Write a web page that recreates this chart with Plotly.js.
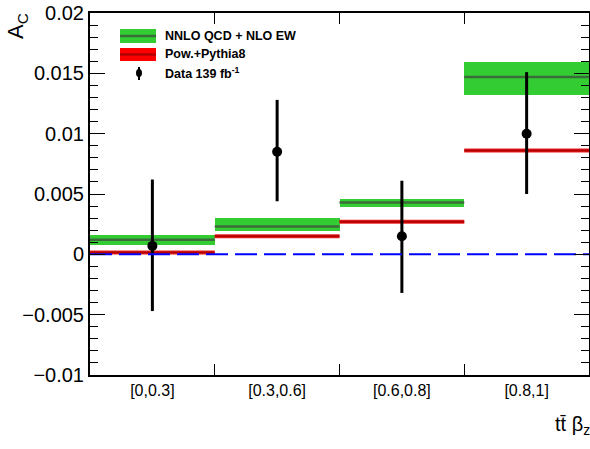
<!DOCTYPE html>
<html>
<head>
<meta charset="utf-8">
<script src="https://cdn.plot.ly/plotly-3.0.1.min.js"></script>
<style>html,body{margin:0;padding:0;background:#fff;}#chart{width:590px;height:449px;}</style>
</head>
<body>
<div id="chart"></div>
<script>
// ---- data ----
var binLabels = ['[0,0.3]', '[0.3,0.6]', '[0.6,0.8]', '[0.8,1]'];
var nnloCentral = [0.0012, 0.0023, 0.0043, 0.0147];
var nnloLow     = [0.00075, 0.0019, 0.0039, 0.0132];
var nnloHigh    = [0.00157, 0.0030, 0.0046, 0.0159];
var powheg      = [0.00015, 0.0015, 0.0027, 0.0086];
var dataVal     = [0.0007, 0.0085, 0.0015, 0.0100];
var dataUp      = [0.0062, 0.0128, 0.0061, 0.0151];
var dataDown    = [-0.0047, 0.0044, -0.0032, 0.0050];
var yTickVals   = [-0.01, -0.005, 0, 0.005, 0.01, 0.015, 0.02];
var yTickText   = ['\u22120.01', '\u22120.005', '0', '0.005', '0.01', '0.015', '0.02'];

// ---- derived ----
var centers = binLabels.map(function(_, i){ return i + 0.5; });
var edgesInner = binLabels.slice(1).map(function(_, i){ return i + 1; });
function steps(vals){
  var xs = [], ys = [];
  vals.forEach(function(v, i){ xs.push(i, i + 1, null); ys.push(v, v, null); });
  return {x: xs, y: ys};
}
var gStep = steps(nnloCentral), rStep = steps(powheg);

var traces = [
  {type: 'bar', x: centers, y: nnloHigh.map(function(h, i){ return h - nnloLow[i]; }),
   base: nnloLow, width: 1, marker: {color: '#33cc33', line: {width: 0}}, hoverinfo: 'skip'},
  {type: 'scatter', mode: 'lines', x: gStep.x, y: gStep.y, line: {color: '#3b6b3b', width: 2.5}},
  {type: 'scatter', mode: 'lines', x: rStep.x, y: rStep.y, line: {color: '#ee2222', width: 4}},
  {type: 'scatter', mode: 'lines', x: rStep.x, y: rStep.y, line: {color: '#b00000', width: 2}},
  {type: 'scatter', mode: 'lines', xaxis: 'x2', x: [0, binLabels.length], y: [0, 0],
   line: {color: '#0000ff', width: 2, dash: '22px,7px'}},
  {type: 'scatter', mode: 'markers', x: centers, y: dataVal,
   marker: {color: '#000', size: 10, symbol: 'circle'},
   error_y: {type: 'data', symmetric: false,
     array: dataUp.map(function(u, i){ return u - dataVal[i]; }),
     arrayminus: dataVal.map(function(v, i){ return v - dataDown[i]; }),
     color: '#000', thickness: 3, width: 0}}
];

var L = 90, R = 589, T = 13, B = 375;
function px(x){ return (x - L) / (R - L); }
function py(y){ return (B - y) / (B - T); }

var font = 'Liberation Sans, Arial, sans-serif';
var layout = {
  width: 590, height: 449,
  margin: {l: 90, r: 1, t: 13, b: 74},
  paper_bgcolor: '#fff', plot_bgcolor: '#fff',
  showlegend: false,
  bargap: 0,
  xaxis: {range: [0, binLabels.length], tickvals: centers, ticktext: binLabels, ticks: '',
    showline: true, linecolor: '#000', linewidth: 2, mirror: true, showgrid: false, zeroline: false,
    tickfont: {family: font, size: 16, color: '#000'}, fixedrange: true},
  xaxis2: {range: [0, binLabels.length], overlaying: 'x', anchor: 'y', tickvals: edgesInner,
    ticks: 'inside', ticklen: 11, tickwidth: 1, tickcolor: '#000', mirror: 'ticks',
    showticklabels: false, showline: false, showgrid: false, zeroline: false},
  yaxis: {range: [-0.01, 0.02], tickvals: yTickVals, ticktext: yTickText,
    ticks: 'inside', ticklen: 15, tickwidth: 1, tickcolor: '#000', mirror: 'ticks',
    minor: {dtick: 0.001, ticks: 'inside', ticklen: 8, tickwidth: 1, tickcolor: '#000'},
    showline: true, linecolor: '#000', linewidth: 2, showgrid: false, zeroline: false,
    tickfont: {family: font, size: 20, color: '#000'}, fixedrange: true},
  shapes: [
    {type: 'rect', xref: 'paper', yref: 'paper', x0: px(120), x1: px(156), y0: py(43), y1: py(29),
     fillcolor: '#33cc33', line: {width: 0}},
    {type: 'line', xref: 'paper', yref: 'paper', x0: px(120), x1: px(156), y0: py(36), y1: py(36),
     line: {color: '#3b6b3b', width: 2.5}},
    {type: 'rect', xref: 'paper', yref: 'paper', x0: px(120), x1: px(156), y0: py(61), y1: py(48),
     fillcolor: '#ff0000', line: {width: 0}},
    {type: 'line', xref: 'paper', yref: 'paper', x0: px(120), x1: px(156), y0: py(54.5), y1: py(54.5),
     line: {color: '#b00000', width: 2.5}},
    {type: 'line', xref: 'paper', yref: 'paper', x0: px(139), x1: px(139), y0: py(80), y1: py(67),
     line: {color: '#000', width: 2}},
    {type: 'circle', xref: 'paper', yref: 'paper', x0: px(136), x1: px(142), y0: py(77), y1: py(69),
     fillcolor: '#000', line: {width: 0}}
  ],
  annotations: [
    {xref: 'paper', yref: 'paper', x: px(163), y: py(36), xanchor: 'left', yanchor: 'middle', showarrow: false,
     text: '<b>NNLO QCD + NLO EW</b>', font: {family: font, size: 12.5, color: '#000'}},
    {xref: 'paper', yref: 'paper', x: px(163), y: py(54.5), xanchor: 'left', yanchor: 'middle', showarrow: false,
     text: '<b>Pow.+Pythia8</b>', font: {family: font, size: 12.5, color: '#000'}},
    {xref: 'paper', yref: 'paper', x: px(163), y: py(73), xanchor: 'left', yanchor: 'middle', showarrow: false,
     text: '<b>Data 139 fb<sup>-1</sup></b>', font: {family: font, size: 12.5, color: '#000'}},
    {xref: 'paper', yref: 'paper', x: px(17), y: py(26), xanchor: 'center', yanchor: 'middle', showarrow: false,
     textangle: -90, text: 'A<sub>C</sub>', font: {family: font, size: 22, color: '#000'}},
    {xref: 'paper', yref: 'paper', x: px(592), y: py(425), xanchor: 'right', yanchor: 'middle', showarrow: false,
     text: 'tt\u0304 \u03b2<sub>z</sub>', font: {family: font, size: 20, color: '#000'}}
  ]
};

Plotly.newPlot('chart', traces, layout, {displayModeBar: false, staticPlot: true});
</script>
</body>
</html>
